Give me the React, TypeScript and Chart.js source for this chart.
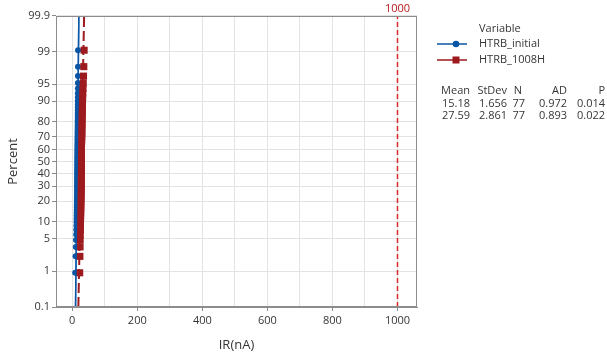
import React, { useEffect, useRef } from 'react';
import { Chart, registerables } from 'chart.js';

Chart.register(...registerables);

const seriesNames = ['HTRB_initial', 'HTRB_1008H'];
const legendTitle = 'Variable';

const htrbInitial = [
  9.0, 10.2, 10.9, 11.5, 12.0, 12.4, 12.8, 13.1, 13.3, 13.5,
  13.7, 13.9, 14.0, 14.1, 14.2, 14.3, 14.4, 14.5, 14.6, 14.7,
  14.8, 14.8, 14.9, 15.0, 15.0, 15.1, 15.1, 15.2, 15.2, 15.3,
  15.3, 15.4, 15.4, 15.5, 15.5, 15.6, 15.6, 15.7, 15.7, 15.8,
  15.8, 15.9, 15.9, 16.0, 16.0, 16.0, 16.1, 16.1, 16.2, 16.2,
  16.3, 16.3, 16.4, 16.4, 16.5, 16.5, 16.6, 16.6, 16.7, 16.7,
  16.8, 16.8, 16.9, 16.9, 17.0, 17.0, 17.1, 17.1, 17.2, 17.2,
  17.3, 17.3, 17.4, 17.4, 17.5, 17.6, 17.8,
];

const htrb1008H = [
  22.8, 23.5, 24.0, 24.3, 24.6, 24.9, 25.1, 25.3, 25.5, 25.7,
  25.8, 26.0, 26.1, 26.2, 26.3, 26.4, 26.5, 26.6, 26.7, 26.8,
  26.9, 27.0, 27.0, 27.1, 27.1, 27.2, 27.2, 27.3, 27.3, 27.4,
  27.4, 27.5, 27.5, 27.6, 27.6, 27.7, 27.7, 27.8, 27.8, 27.9,
  27.9, 28.0, 28.0, 28.1, 28.1, 28.2, 28.2, 28.3, 28.3, 28.4,
  28.5, 28.6, 28.7, 28.8, 28.9, 29.0, 29.1, 29.2, 29.3, 29.4,
  29.5, 29.6, 29.8, 30.0, 30.2, 30.4, 30.6, 30.9, 31.2, 31.5,
  31.9, 32.4, 33.0, 33.8, 34.6, 35.5, 36.5,
];

const fitMeans = [15.18, 27.59];
const fitStDevs = [1.656, 2.861];

const percentTicks = [0.1, 1, 5, 10, 20, 30, 40, 50, 60, 70, 80, 90, 95, 99, 99.9];
const xGridTicks = [0, 100, 200, 300, 400, 500, 600, 700, 800, 900, 1000];
const xLabelTicks = [0, 200, 400, 600, 800, 1000];
const referenceLine = 1000;

const statHeaders = ['Mean', 'StDev', 'N', 'AD', 'P'];
const statsInitial = ['15.18', '1.656', '77', '0.972', '0.014'];
const stats1008H = ['27.59', '2.861', '77', '0.893', '0.022'];

const BLUE = '#0B55A4';
const BLUE_LIGHT = '#5A93D0';
const RED = '#9D1A1F';
const REF = '#E0252B';
const REF_TEXT = '#B3161C';
const TEXT = '#363636';
const FONT = "'Open Sans', 'Noto Sans', sans-serif";

// inverse standard normal CDF (Acklam)
function probit(p: number): number {
  const a = [-3.969683028665376e1, 2.209460984245205e2, -2.759285104469687e2, 1.38357751867269e2, -3.066479806614716e1, 2.506628277459239];
  const b = [-5.447609879822406e1, 1.615858368580409e2, -1.556989798598866e2, 6.680131188771972e1, -1.328068155288572e1];
  const c = [-7.784894002430293e-3, -3.223964580411365e-1, -2.400758277161838, -2.549732539343734, 4.374664141464968, 2.938163982698783];
  const d = [7.784695709041462e-3, 3.224671290700398e-1, 2.445134137142996, 3.754408661907416];
  const pl = 0.02425;
  if (p < pl) {
    const q = Math.sqrt(-2 * Math.log(p));
    return (((((c[0] * q + c[1]) * q + c[2]) * q + c[3]) * q + c[4]) * q + c[5]) / ((((d[0] * q + d[1]) * q + d[2]) * q + d[3]) * q + 1);
  }
  if (p > 1 - pl) {
    const q = Math.sqrt(-2 * Math.log(1 - p));
    return -(((((c[0] * q + c[1]) * q + c[2]) * q + c[3]) * q + c[4]) * q + c[5]) / ((((d[0] * q + d[1]) * q + d[2]) * q + d[3]) * q + 1);
  }
  const q = p - 0.5;
  const r = q * q;
  return (((((a[0] * r + a[1]) * r + a[2]) * r + a[3]) * r + a[4]) * r + a[5]) * q / (((((b[0] * r + b[1]) * r + b[2]) * r + b[3]) * r + b[4]) * r + 1);
}

const zMin = probit(0.001);
const zMax = probit(0.999);

function toPoints(values: number[]) {
  const sorted = [...values].sort((a, b) => a - b);
  const n = sorted.length;
  return sorted.map((v, i) => ({ x: v, y: probit((i + 1 - 0.3) / (n + 0.4)) }));
}

function fitLine(mean: number, sd: number) {
  return [
    { x: mean + zMin * sd, y: zMin },
    { x: mean + zMax * sd, y: zMax },
  ];
}

const overlayPlugin = {
  id: 'overlay',
  afterDraw(chart: any) {
    const { ctx, chartArea } = chart;
    const xs = chart.scales.x;
    ctx.save();
    // frame
    ctx.strokeStyle = '#8c8c8c';
    ctx.lineWidth = 1;
    ctx.strokeRect(chartArea.left + 0.5, chartArea.top + 0.5, chartArea.right - chartArea.left - 1, chartArea.bottom - chartArea.top - 1);

    // reference label
    ctx.font = `11px ${FONT}`;
    ctx.fillStyle = REF_TEXT;
    ctx.textAlign = 'center';
    ctx.textBaseline = 'middle';
    ctx.fillText(String(referenceLine), xs.getPixelForValue(referenceLine), 9);

    // legend
    ctx.fillStyle = TEXT;
    ctx.textAlign = 'left';
    ctx.fillText(legendTitle, 479, 29);
    const rows = [44, 60];
    const colors = [BLUE, RED];
    rows.forEach((y, i) => {
      ctx.strokeStyle = colors[i];
      ctx.lineWidth = 1.5;
      ctx.beginPath();
      ctx.moveTo(437, y);
      ctx.lineTo(467, y);
      ctx.stroke();
      ctx.fillStyle = colors[i];
      if (i === 0) {
        ctx.beginPath();
        ctx.arc(456, y, 3.3, 0, Math.PI * 2);
        ctx.fill();
      } else {
        ctx.fillRect(452.5, y - 3.5, 7, 7);
      }
      ctx.fillStyle = TEXT;
      ctx.fillText(seriesNames[i], 479, y);
    });

    // stats table
    const colRight = [470, 507, 525, 567, 605];
    ctx.textAlign = 'right';
    [statHeaders, statsInitial, stats1008H].forEach((row, r) => {
      const y = 91 + r * 12.5;
      row.forEach((txt, c) => {
        if (r === 0 && c === 2) {
          ctx.textAlign = 'center';
          ctx.fillText(txt, 518, y);
          ctx.textAlign = 'right';
        } else {
          ctx.fillText(txt, colRight[c], y);
        }
      });
    });
    ctx.restore();
  },
};

export default function App() {
  const ref = useRef<HTMLCanvasElement | null>(null);

  useEffect(() => {
    if (!ref.current) return;
    const chart = new Chart(ref.current, {
      type: 'scatter',
      data: {
        datasets: [
          {
            type: 'line',
            label: 'fit ' + seriesNames[0],
            data: fitLine(fitMeans[0], fitStDevs[0]),
            borderColor: BLUE,
            borderWidth: 1.5,
            pointRadius: 0,
            fill: false,
            segment: {},
          },
          {
            type: 'line',
            label: 'fit ' + seriesNames[1],
            data: fitLine(fitMeans[1], fitStDevs[1]),
            borderColor: RED,
            borderWidth: 2,
            borderDash: [10, 4],
            pointRadius: 0,
            fill: false,
          },
          {
            type: 'line',
            label: 'reference',
            data: [
              { x: referenceLine, y: zMin },
              { x: referenceLine, y: zMax },
            ],
            borderColor: REF,
            borderWidth: 1.5,
            borderDash: [5, 3],
            pointRadius: 0,
            fill: false,
          },
          {
            label: seriesNames[1],
            data: toPoints(htrb1008H),
            pointStyle: 'rect',
            pointRadius: 5,
            backgroundColor: RED,
            borderColor: RED,
            borderWidth: 0,
          },
          {
            label: seriesNames[0],
            data: toPoints(htrbInitial),
            pointStyle: 'circle',
            pointRadius: 3,
            backgroundColor: BLUE,
            borderColor: BLUE,
            borderWidth: 0,
          },
          {
            type: 'line',
            label: 'fit tail',
            data: fitLine(fitMeans[0], fitStDevs[0]),
            borderColor: BLUE_LIGHT,
            borderWidth: 1.5,
            pointRadius: 0,
            fill: false,
          },
        ],
      } as any,
      options: {
        animation: false,
        responsive: false,
        maintainAspectRatio: false,
        layout: { padding: { left: 0, right: 190, top: 16, bottom: 0 } },
        plugins: {
          legend: { display: false },
          tooltip: { enabled: false },
        },
        scales: {
          x: {
            type: 'linear',
            min: -50,
            max: 1060,
            afterBuildTicks: (s: any) => {
              s.ticks = xGridTicks.map((v) => ({ value: v }));
            },
            afterFit: (s: any) => {
              s.height = 49;
            },
            ticks: {
              autoSkip: false,
              maxRotation: 0,
              padding: 3,
              color: TEXT,
              font: { family: FONT, size: 11 },
              callback: (v: any) => (xLabelTicks.includes(Number(v)) ? String(v) : ''),
            },
            grid: {
              color: '#e3e3e3',
              tickLength: 4,
              tickColor: (c: any) => (c.tick && xLabelTicks.includes(c.tick.value) ? '#8c8c8c' : 'rgba(0,0,0,0)'),
            },
            border: { color: '#8c8c8c' },
            title: {
              display: true,
              text: 'IR(nA)',
              color: TEXT,
              font: { family: FONT, size: 13 },
              padding: { top: 0, bottom: 3 },
            },
          },
          y: {
            type: 'linear',
            min: zMin,
            max: zMax,
            afterBuildTicks: (s: any) => {
              s.ticks = percentTicks.map((p) => ({ value: probit(p / 100) }));
            },
            afterFit: (s: any) => {
              s.width = 56;
            },
            ticks: {
              autoSkip: false,
              padding: 2,
              color: TEXT,
              font: { family: FONT, size: 11 },
              callback: (_v: any, i: number) => String(percentTicks[i]),
            },
            grid: {
              color: '#e3e3e3',
              tickLength: 4,
              tickColor: '#8c8c8c',
            },
            border: { color: '#8c8c8c' },
            title: {
              display: true,
              text: 'Percent',
              color: TEXT,
              font: { family: FONT, size: 13 },
              padding: { top: 5, bottom: 0 },
            },
          },
        },
      } as any,
      plugins: [overlayPlugin],
    });
    return () => chart.destroy();
  }, []);

  return (
    <div style={{ position: 'absolute', left: 0, top: 0, width: 607, height: 356, background: '#fff' }}>
      <canvas ref={ref} width={607} height={356} style={{ display: 'block' }} />
    </div>
  );
}
